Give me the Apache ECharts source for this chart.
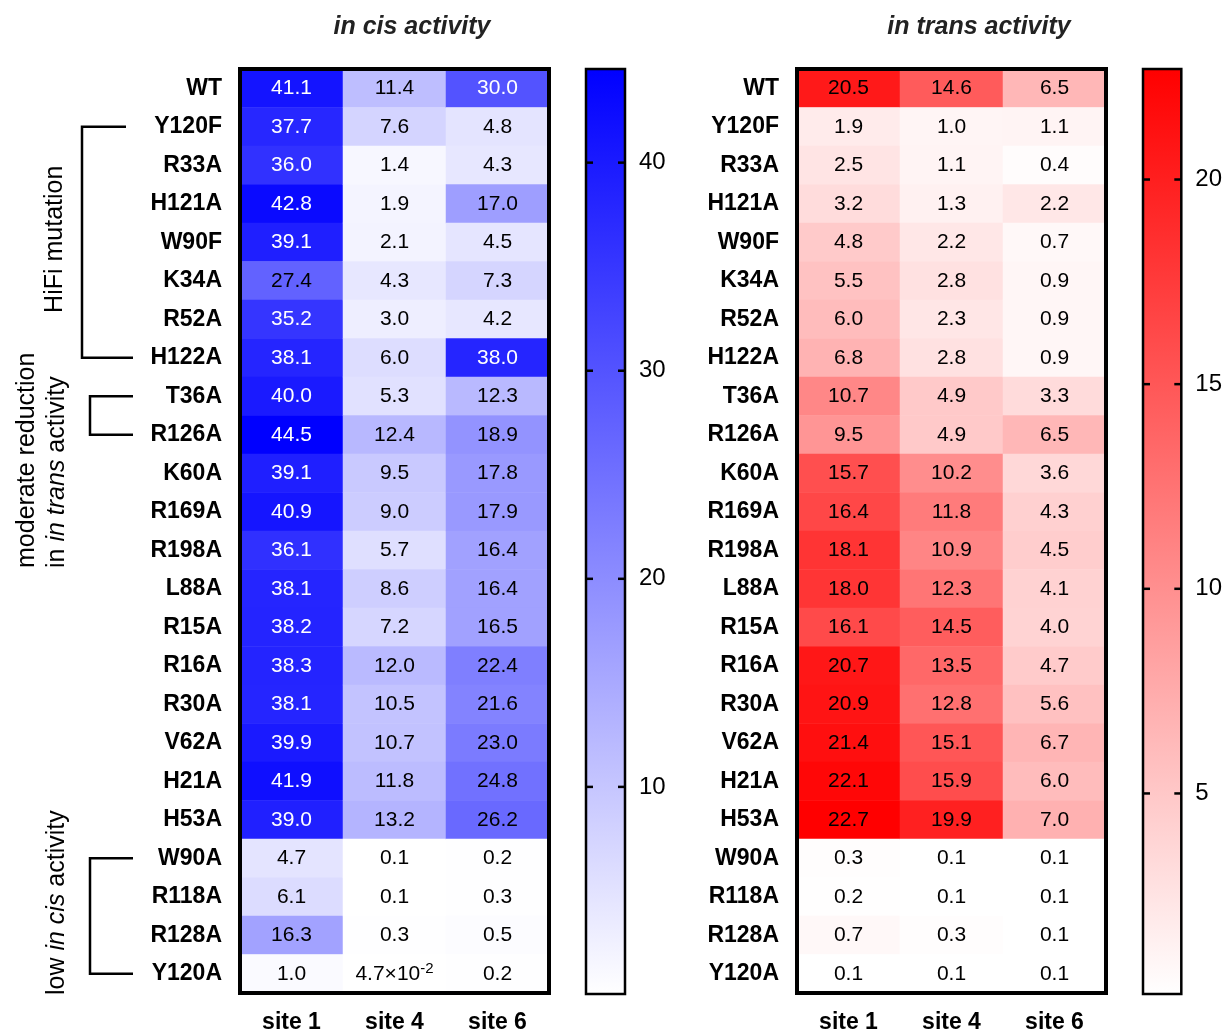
<!DOCTYPE html>
<html>
<head>
<meta charset="utf-8">
<script src="https://cdn.jsdelivr.net/npm/echarts@6/dist/echarts.min.js"></script>
<style>
  html, body { margin: 0; padding: 0; background: #fff; }
  #chart { width: 1225px; height: 1034px; }
</style>
</head>
<body>
<div id="chart"></div>
<script>
// Mutants (top to bottom) and sites
const mutants = ['WT','Y120F','R33A','H121A','W90F','K34A','R52A','H122A','T36A','R126A',
  'K60A','R169A','R198A','L88A','R15A','R16A','R30A','V62A','H21A','H53A',
  'W90A','R118A','R128A','Y120A'];
const sites = ['site 1', 'site 4', 'site 6'];

// in cis activity per site
const cisSite1 = [41.1,37.7,36.0,42.8,39.1,27.4,35.2,38.1,40.0,44.5,39.1,40.9,36.1,38.1,38.2,38.3,38.1,39.9,41.9,39.0,4.7,6.1,16.3,1.0];
const cisSite4 = [11.4,7.6,1.4,1.9,2.1,4.3,3.0,6.0,5.3,12.4,9.5,9.0,5.7,8.6,7.2,12.0,10.5,10.7,11.8,13.2,0.1,0.1,0.3,0.047];
const cisSite6 = [30.0,4.8,4.3,17.0,4.5,7.3,4.2,38.0,12.3,18.9,17.8,17.9,16.4,16.4,16.5,22.4,21.6,23.0,24.8,26.2,0.2,0.3,0.5,0.2];

// in trans activity per site
const transSite1 = [20.5,1.9,2.5,3.2,4.8,5.5,6.0,6.8,10.7,9.5,15.7,16.4,18.1,18.0,16.1,20.7,20.9,21.4,22.1,22.7,0.3,0.2,0.7,0.1];
const transSite4 = [14.6,1.0,1.1,1.3,2.2,2.8,2.3,2.8,4.9,4.9,10.2,11.8,10.9,12.3,14.5,13.5,12.8,15.1,15.9,19.9,0.1,0.1,0.3,0.1];
const transSite6 = [6.5,1.1,0.4,2.2,0.7,0.9,0.9,0.9,3.3,6.5,3.6,4.3,4.5,4.1,4.0,4.7,5.6,6.7,6.0,7.0,0.1,0.1,0.1,0.1];

// Colour-bar tick labels
const cisTicks = [10, 20, 30, 40];
const transTicks = [5, 10, 15, 20];

const FONT = '"Liberation Sans", Arial, Helvetica, sans-serif';
const BLUE = '#0000ff', RED = '#ff0000', LOW = '#ffffff';

function toCells(cols, whiteAbove) {
  const out = [];
  cols.forEach((col, x) => {
    col.forEach((v, y) => {
      out.push({ value: [x, y, v], label: { color: v >= whiteAbove ? '#ffffff' : '#000000' } });
    });
  });
  return out;
}

function fmtCell(p) {
  const v = p.value[2];
  if (v < 0.095) {
    const e = Math.floor(Math.log10(v));
    const m = (v / Math.pow(10, e)).toFixed(1);
    return '{n|' + m + '×10}{sup|' + e + '}';
  }
  return v.toFixed(1);
}

const cisCols = [cisSite1, cisSite4, cisSite6];
const transCols = [transSite1, transSite4, transSite6];
const cisAll = cisCols.flat(), transAll = transCols.flat();
const cisMin = Math.min(...cisAll), cisMax = Math.max(...cisAll);
const transMin = Math.min(...transAll), transMax = Math.max(...transAll);

const chart = echarts.init(document.getElementById('chart'), null, { renderer: 'canvas' });

function heatX(gridIndex) {
  return {
    type: 'category', data: sites, gridIndex, position: 'bottom',
    axisLine: { show: false }, axisTick: { show: false }, splitLine: { show: false },
    axisLabel: { fontFamily: FONT, fontSize: 23, fontWeight: 'bold', color: '#000', margin: 18 }
  };
}
function heatY(gridIndex) {
  return {
    type: 'category', data: mutants, gridIndex, inverse: true,
    axisLine: { show: false }, axisTick: { show: false }, splitLine: { show: false },
    axisLabel: { fontFamily: FONT, fontSize: 23, fontWeight: 'bold', color: '#000', margin: 18 }
  };
}
function barX(gridIndex) {
  return { type: 'value', gridIndex, min: 0, max: 1, show: false };
}
function barY(gridIndex, lo, hi, ticks) {
  return {
    type: 'value', gridIndex, min: lo, max: hi, position: 'right',
    axisLine: { show: false }, splitLine: { show: false }, axisTick: { show: false },
    axisLabel: { customValues: ticks, fontFamily: FONT, fontSize: 24, color: '#000', margin: 14 }
  };
}
// Colour bar: gradient rectangle with short inward ticks on both edges
function barSeries(xi, yi, lo, hi, color, ticks) {
  return {
    type: 'custom', xAxisIndex: xi, yAxisIndex: yi, clip: false, silent: true, z: 3,
    data: [[0, lo, hi]], encode: { x: 0, y: [1, 2] },
    renderItem(params, api) {
      const cs = params.coordSys;
      const top = api.coord([0, api.value(2)])[1];
      const bot = api.coord([0, api.value(1)])[1];
      const children = [{
        type: 'rect',
        shape: { x: cs.x, y: top, width: cs.width, height: bot - top },
        style: {
          fill: new echarts.graphic.LinearGradient(0, 0, 0, 1,
            [{ offset: 0, color: color }, { offset: 1, color: LOW }]),
          stroke: '#000', lineWidth: 2.5
        }
      }];
      ticks.forEach(t => {
        const ty = api.coord([0, t])[1];
        children.push({ type: 'line', shape: { x1: cs.x, y1: ty, x2: cs.x + 7, y2: ty },
          style: { stroke: '#000', lineWidth: 2.5 } });
        children.push({ type: 'line', shape: { x1: cs.x + cs.width - 7, y1: ty, x2: cs.x + cs.width, y2: ty },
          style: { stroke: '#000', lineWidth: 2.5 } });
      });
      return { type: 'group', children };
    }
  };
}
function heatSeries(xi, yi, cols, whiteAbove) {
  return {
    type: 'heatmap', xAxisIndex: xi, yAxisIndex: yi,
    data: toCells(cols, whiteAbove),
    itemStyle: { borderWidth: 0 },
    emphasis: { disabled: true },
    label: {
      show: true, formatter: fmtCell, fontFamily: FONT, fontSize: 21,
      rich: {
        n: { fontFamily: FONT, fontSize: 21, lineHeight: 24 },
        sup: { fontFamily: FONT, fontSize: 15, verticalAlign: 'top', lineHeight: 24, padding: [0, 0, 8, 0] }
      }
    }
  };
}

const gridTop = 69, gridH = 925;
const titleStyle = { fontFamily: FONT, fontSize: 25, fontWeight: 'bold', fontStyle: 'italic', color: '#222' };

chart.setOption({
  animation: false,
  backgroundColor: '#ffffff',
  title: [
    { text: 'in cis activity', left: 407, top: 10, textAlign: 'center', textStyle: titleStyle },
    { text: 'in trans activity', left: 974, top: 10, textAlign: 'center', textStyle: titleStyle }
  ],
  grid: [
    { left: 240, top: gridTop, width: 309, height: gridH, show: true, borderColor: '#000', borderWidth: 4, backgroundColor: 'transparent', z: 10 },
    { left: 586, top: gridTop, width: 39, height: gridH },
    { left: 797, top: gridTop, width: 309, height: gridH, show: true, borderColor: '#000', borderWidth: 4, backgroundColor: 'transparent', z: 10 },
    { left: 1143, top: gridTop, width: 39, height: gridH }
  ],
  xAxis: [heatX(0), barX(1), heatX(2), barX(3)],
  yAxis: [
    heatY(0),
    barY(1, cisMin, cisMax, cisTicks),
    heatY(2),
    barY(3, transMin, transMax, transTicks)
  ],
  visualMap: [
    { type: 'continuous', show: false, seriesIndex: 0, dimension: 2, min: cisMin, max: cisMax, inRange: { color: [LOW, BLUE] } },
    { type: 'continuous', show: false, seriesIndex: 2, dimension: 2, min: transMin, max: transMax, inRange: { color: [LOW, RED] } }
  ],
  series: [
    heatSeries(0, 0, cisCols, 29),
    barSeries(1, 1, cisMin, cisMax, BLUE, cisTicks),
    heatSeries(2, 2, transCols, Infinity),
    barSeries(3, 3, transMin, transMax, RED, transTicks)
  ]
});

// Group brackets and rotated group captions on the left
const rowY = name => chart.convertToPixel({ yAxisIndex: 0 }, name);
const LW = 2.5;
function bracket(first, last, xv, endTop, endBot) {
  const y1 = rowY(first), y2 = rowY(last);
  return {
    type: 'polyline', silent: true,
    shape: { points: [[endTop, y1], [xv, y1], [xv, y2], [endBot, y2]] },
    style: { stroke: '#000', lineWidth: LW, fill: null }
  };
}
const capRich = {
  r: { fontFamily: FONT, fontSize: 25, color: '#1a1a1a', lineHeight: 30 },
  i: { fontFamily: FONT, fontSize: 25, fontStyle: 'italic', color: '#1a1a1a', lineHeight: 30 }
};
function caption(text, x, y, align) {
  return {
    type: 'text', silent: true, x, y, rotation: Math.PI / 2,
    style: { text, rich: capRich, align, verticalAlign: 'middle' }
  };
}

chart.setOption({
  graphic: [
    bracket('Y120F', 'H122A', 82, 126, 133),
    bracket('T36A', 'R126A', 90, 133, 133),
    bracket('W90A', 'Y120A', 90, 133, 133),
    caption('{r|HiFi mutation}', 55, (rowY('Y120F') + rowY('H122A')) / 2 - 3, 'center'),
    caption('{r|moderate reduction}\n{r|in }{i|in trans}{r| activity}', 42, 568, 'left'),
    caption('{r|low }{i|in cis}{r| activity}', 57, 995, 'left')
  ]
});
</script>
</body>
</html>
